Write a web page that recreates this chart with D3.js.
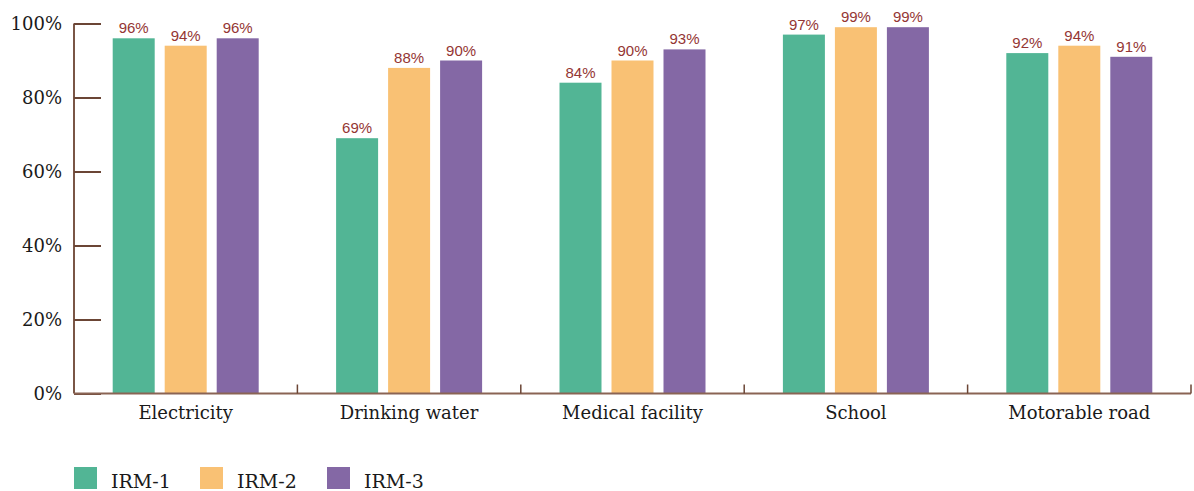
<!DOCTYPE html>
<html>
<head>
<meta charset="utf-8">
<script src="https://cdn.jsdelivr.net/npm/d3@7"></script>
<style>
  html, body { margin: 0; padding: 0; background: #fff; }
  svg { display: block; }
</style>
</head>
<body>
<div id="chart"></div>
<script>
// Access to basic services by survey round
const categories = ["Electricity", "Drinking water", "Medical facility", "School", "Motorable road"];
const seriesNames = ["IRM-1", "IRM-2", "IRM-3"];
const irm1 = [96, 69, 84, 97, 92];
const irm2 = [94, 88, 90, 99, 94];
const irm3 = [96, 90, 93, 99, 91];
const yTicks = [0, 20, 40, 60, 80, 100];
const colors = ["#52b595", "#f9c174", "#8468a5"];

const series = [irm1, irm2, irm3];
const W = 1194, H = 491;
const margin = { left: 74, right: 3, top: 23.5, bottom: 97.5 };
const axisColor = "#7a5646";

const svg = d3.select("#chart").append("svg")
  .attr("width", W).attr("height", H);

const x0 = d3.scaleBand()
  .domain(categories)
  .range([margin.left, W - margin.right])
  .paddingInner(0).paddingOuter(0);

const groupW = 146;
const x1 = d3.scaleBand()
  .domain(seriesNames)
  .range([0, groupW])
  .paddingInner(10 / 52).paddingOuter(0);

const y = d3.scaleLinear()
  .domain([0, 100])
  .range([H - margin.bottom, margin.top]);

// Bars
const groups = svg.append("g").selectAll("g")
  .data(categories)
  .join("g")
  .attr("transform", d => `translate(${x0(d) + (x0.bandwidth() - groupW) / 2},0)`);

groups.selectAll("rect")
  .data((c, i) => seriesNames.map((s, j) => ({ s, j, v: series[j][i] })))
  .join("rect")
  .attr("x", d => x1(d.s))
  .attr("width", x1.bandwidth())
  .attr("y", d => y(d.v))
  .attr("height", d => y(0) - y(d.v))
  .attr("fill", d => colors[d.j]);

groups.selectAll("text.val")
  .data((c, i) => seriesNames.map((s, j) => ({ s, j, v: series[j][i] })))
  .join("text")
  .attr("class", "val")
  .attr("x", d => x1(d.s) + x1.bandwidth() / 2)
  .attr("y", d => y(d.v) - 5)
  .attr("text-anchor", "middle")
  .attr("font-family", "Liberation Sans, Arial, sans-serif")
  .attr("font-size", 15)
  .attr("fill", "#943634")
  .text(d => d.v + "%");

// Y axis with inward ticks
const yAxis = d3.axisLeft(y)
  .tickValues(yTicks)
  .tickSize(-27)
  .tickPadding(12)
  .tickFormat(d => d + "%");

const gy = svg.append("g")
  .attr("transform", `translate(${margin.left},0)`)
  .call(yAxis);
gy.select(".domain").attr("stroke", axisColor).attr("stroke-width", 2)
  .attr("d", `M0,${y(100)}V${y(0)}`);
gy.selectAll(".tick line").attr("stroke", "#6b4535").attr("stroke-width", 2);
gy.selectAll(".tick text")
  .attr("font-family", "DejaVu Serif, Georgia, serif")
  .attr("font-size", 18)
  .attr("fill", "#1a1a1a")
  .attr("dy", "0.35em");

// X axis: baseline with upward ticks at category boundaries
const boundaries = categories.map(c => x0(c)).concat([x0.range()[1]]).slice(1);
const gx = svg.append("g");
gx.append("line")
  .attr("x1", margin.left).attr("x2", x0.range()[1])
  .attr("y1", y(0)).attr("y2", y(0))
  .attr("stroke", "#8a6454").attr("stroke-width", 2);
gx.selectAll("line.bt")
  .data(boundaries)
  .join("line")
  .attr("class", "bt")
  .attr("x1", d => d).attr("x2", d => d)
  .attr("y1", y(0)).attr("y2", y(0) - 9)
  .attr("stroke", "#6b4535").attr("stroke-width", 1.5);
gx.selectAll("text")
  .data(categories)
  .join("text")
  .attr("x", d => x0(d) + x0.bandwidth() / 2)
  .attr("y", y(0) + 25)
  .attr("text-anchor", "middle")
  .attr("font-family", "DejaVu Serif, Georgia, serif")
  .attr("font-size", 18)
  .attr("fill", "#1a1a1a")
  .text(d => d);

// Legend
const legendX = [74, 200, 327];
const legend = svg.append("g").selectAll("g")
  .data(seriesNames)
  .join("g")
  .attr("transform", (d, i) => `translate(${legendX[i]},467)`);
legend.append("rect")
  .attr("width", 23).attr("height", 22)
  .attr("fill", (d, i) => colors[i]);
legend.append("text")
  .attr("x", 37).attr("y", 21)
  .attr("font-family", "DejaVu Serif, Georgia, serif")
  .attr("font-size", 19)
  .attr("fill", "#1a1a1a")
  .text(d => d);
</script>
</body>
</html>
